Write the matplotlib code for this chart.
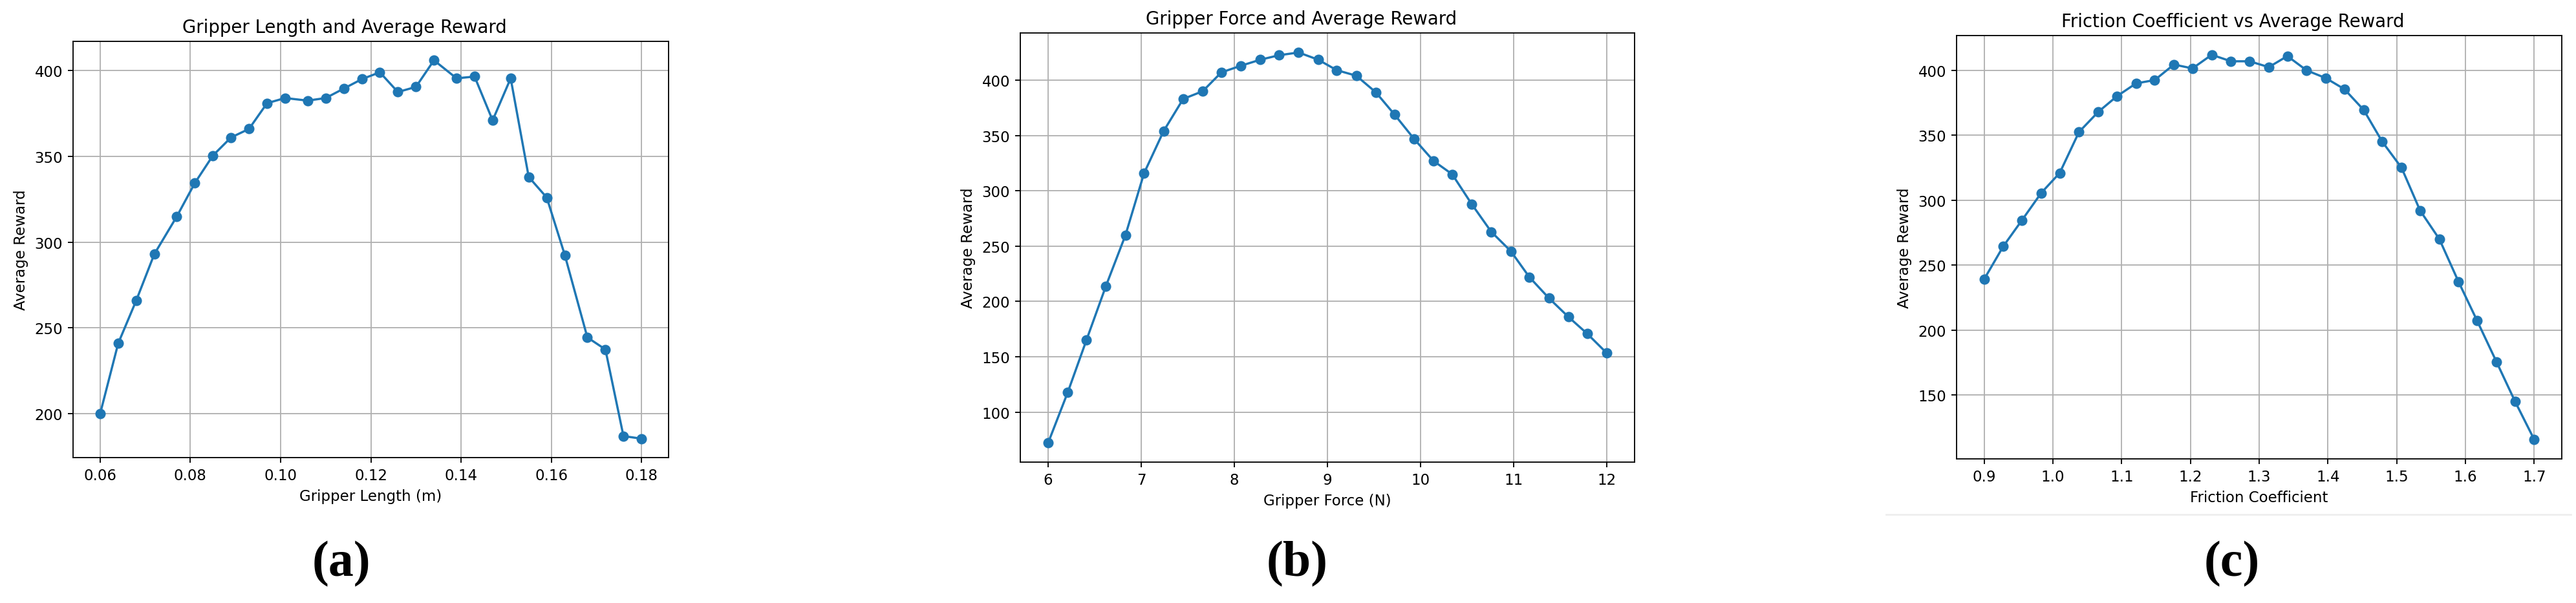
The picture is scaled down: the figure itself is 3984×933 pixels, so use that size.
import matplotlib
matplotlib.use("Agg")
import matplotlib.pyplot as plt
from matplotlib.lines import Line2D

# ---------------- data ----------------
length_m = [0.060, 0.064, 0.068, 0.072, 0.077, 0.081, 0.085, 0.089, 0.093, 0.097,
            0.101, 0.106, 0.110, 0.114, 0.118, 0.122, 0.126, 0.130, 0.134, 0.139,
            0.143, 0.147, 0.151, 0.155, 0.159, 0.163, 0.168, 0.172, 0.176, 0.180]
reward_length = [200, 241, 266, 293, 315, 334.5, 350.5, 361, 366, 381,
                 384, 382.5, 384, 389.5, 395, 399, 387.5, 390.5, 406, 395.5,
                 396.5, 371, 395.5, 338, 326, 292.5, 244.5, 237.5, 187, 185.5]

force_n = [6.00, 6.21, 6.41, 6.62, 6.83, 7.03, 7.24, 7.45, 7.66, 7.86,
           8.07, 8.28, 8.48, 8.69, 8.90, 9.10, 9.31, 9.52, 9.72, 9.93,
           10.14, 10.34, 10.55, 10.76, 10.97, 11.17, 11.38, 11.59, 11.79, 12.00]
reward_force = [72.5, 118, 165, 214, 260, 316, 354, 383, 390, 407,
                413, 418.5, 422.5, 425, 418.5, 409, 404, 389, 369, 347,
                327, 315, 288, 263, 245.5, 222, 203, 186, 171, 153.5]

friction = [0.900, 0.928, 0.955, 0.983, 1.010, 1.038, 1.066, 1.093, 1.121, 1.148,
            1.176, 1.203, 1.231, 1.259, 1.286, 1.314, 1.341, 1.369, 1.397, 1.424,
            1.452, 1.479, 1.507, 1.534, 1.562, 1.590, 1.617, 1.645, 1.672, 1.700]
reward_friction = [239, 264.5, 284.5, 305.5, 321, 352.5, 368, 380, 390, 392.5,
                   404.5, 401.5, 412, 407, 407, 402.5, 411, 400, 394, 385.5,
                   369.5, 345, 325, 292, 270, 237, 207, 175.5, 145, 115.5]

titles = ["Gripper Length and Average Reward",
          "Gripper Force and Average Reward",
          "Friction Coefficient vs Average Reward"]
xlabels = ["Gripper Length (m)", "Gripper Force (N)", "Friction Coefficient"]
ylabel = "Average Reward"
panel_labels = ["(a)", "(b)", "(c)"]

# ---------------- figure ----------------
W, H = 3984, 934
DPI = 165
fig = plt.figure(figsize=(W / DPI, H / DPI), dpi=DPI)

def px_box(l, t, r, b):
    return [l / W, 1 - b / H, (r - l) / W, (b - t) / H]

boxes = [px_box(113, 65, 1034, 709),
         px_box(1578, 52, 2528, 716),
         px_box(3026, 56, 3962, 711)]
title_x = [533, 2013, 3453]
label_x = [528, 2006, 3452]

series = [(length_m, reward_length), (force_n, reward_force), (friction, reward_friction)]

for i, (box, (xs, ys)) in enumerate(zip(boxes, series)):
    ax = fig.add_axes(box)
    ax.plot(xs, ys, marker="o", color="#1f77b4", linewidth=1.5, markersize=6)
    ax.grid(True)
    ax.set_xlabel(xlabels[i])
    ax.set_ylabel(ylabel)
    l_px = box[0] * W
    w_px = box[2] * W
    ax.set_title(titles[i], x=(title_x[i] - l_px) / w_px)
    fig.text(label_x[i] / W, 1 - 873 / H, panel_labels[i], ha="center", va="center",
             fontsize=34, fontweight="bold", family=["Liberation Serif", "DejaVu Serif"])

# faint separator line under panel (c)
fig.add_artist(Line2D([2917 / W, 3976 / W], [1 - 797 / H, 1 - 797 / H],
                      color="#eeeeee", linewidth=1.2))

fig.savefig("out.png", dpi=DPI)
